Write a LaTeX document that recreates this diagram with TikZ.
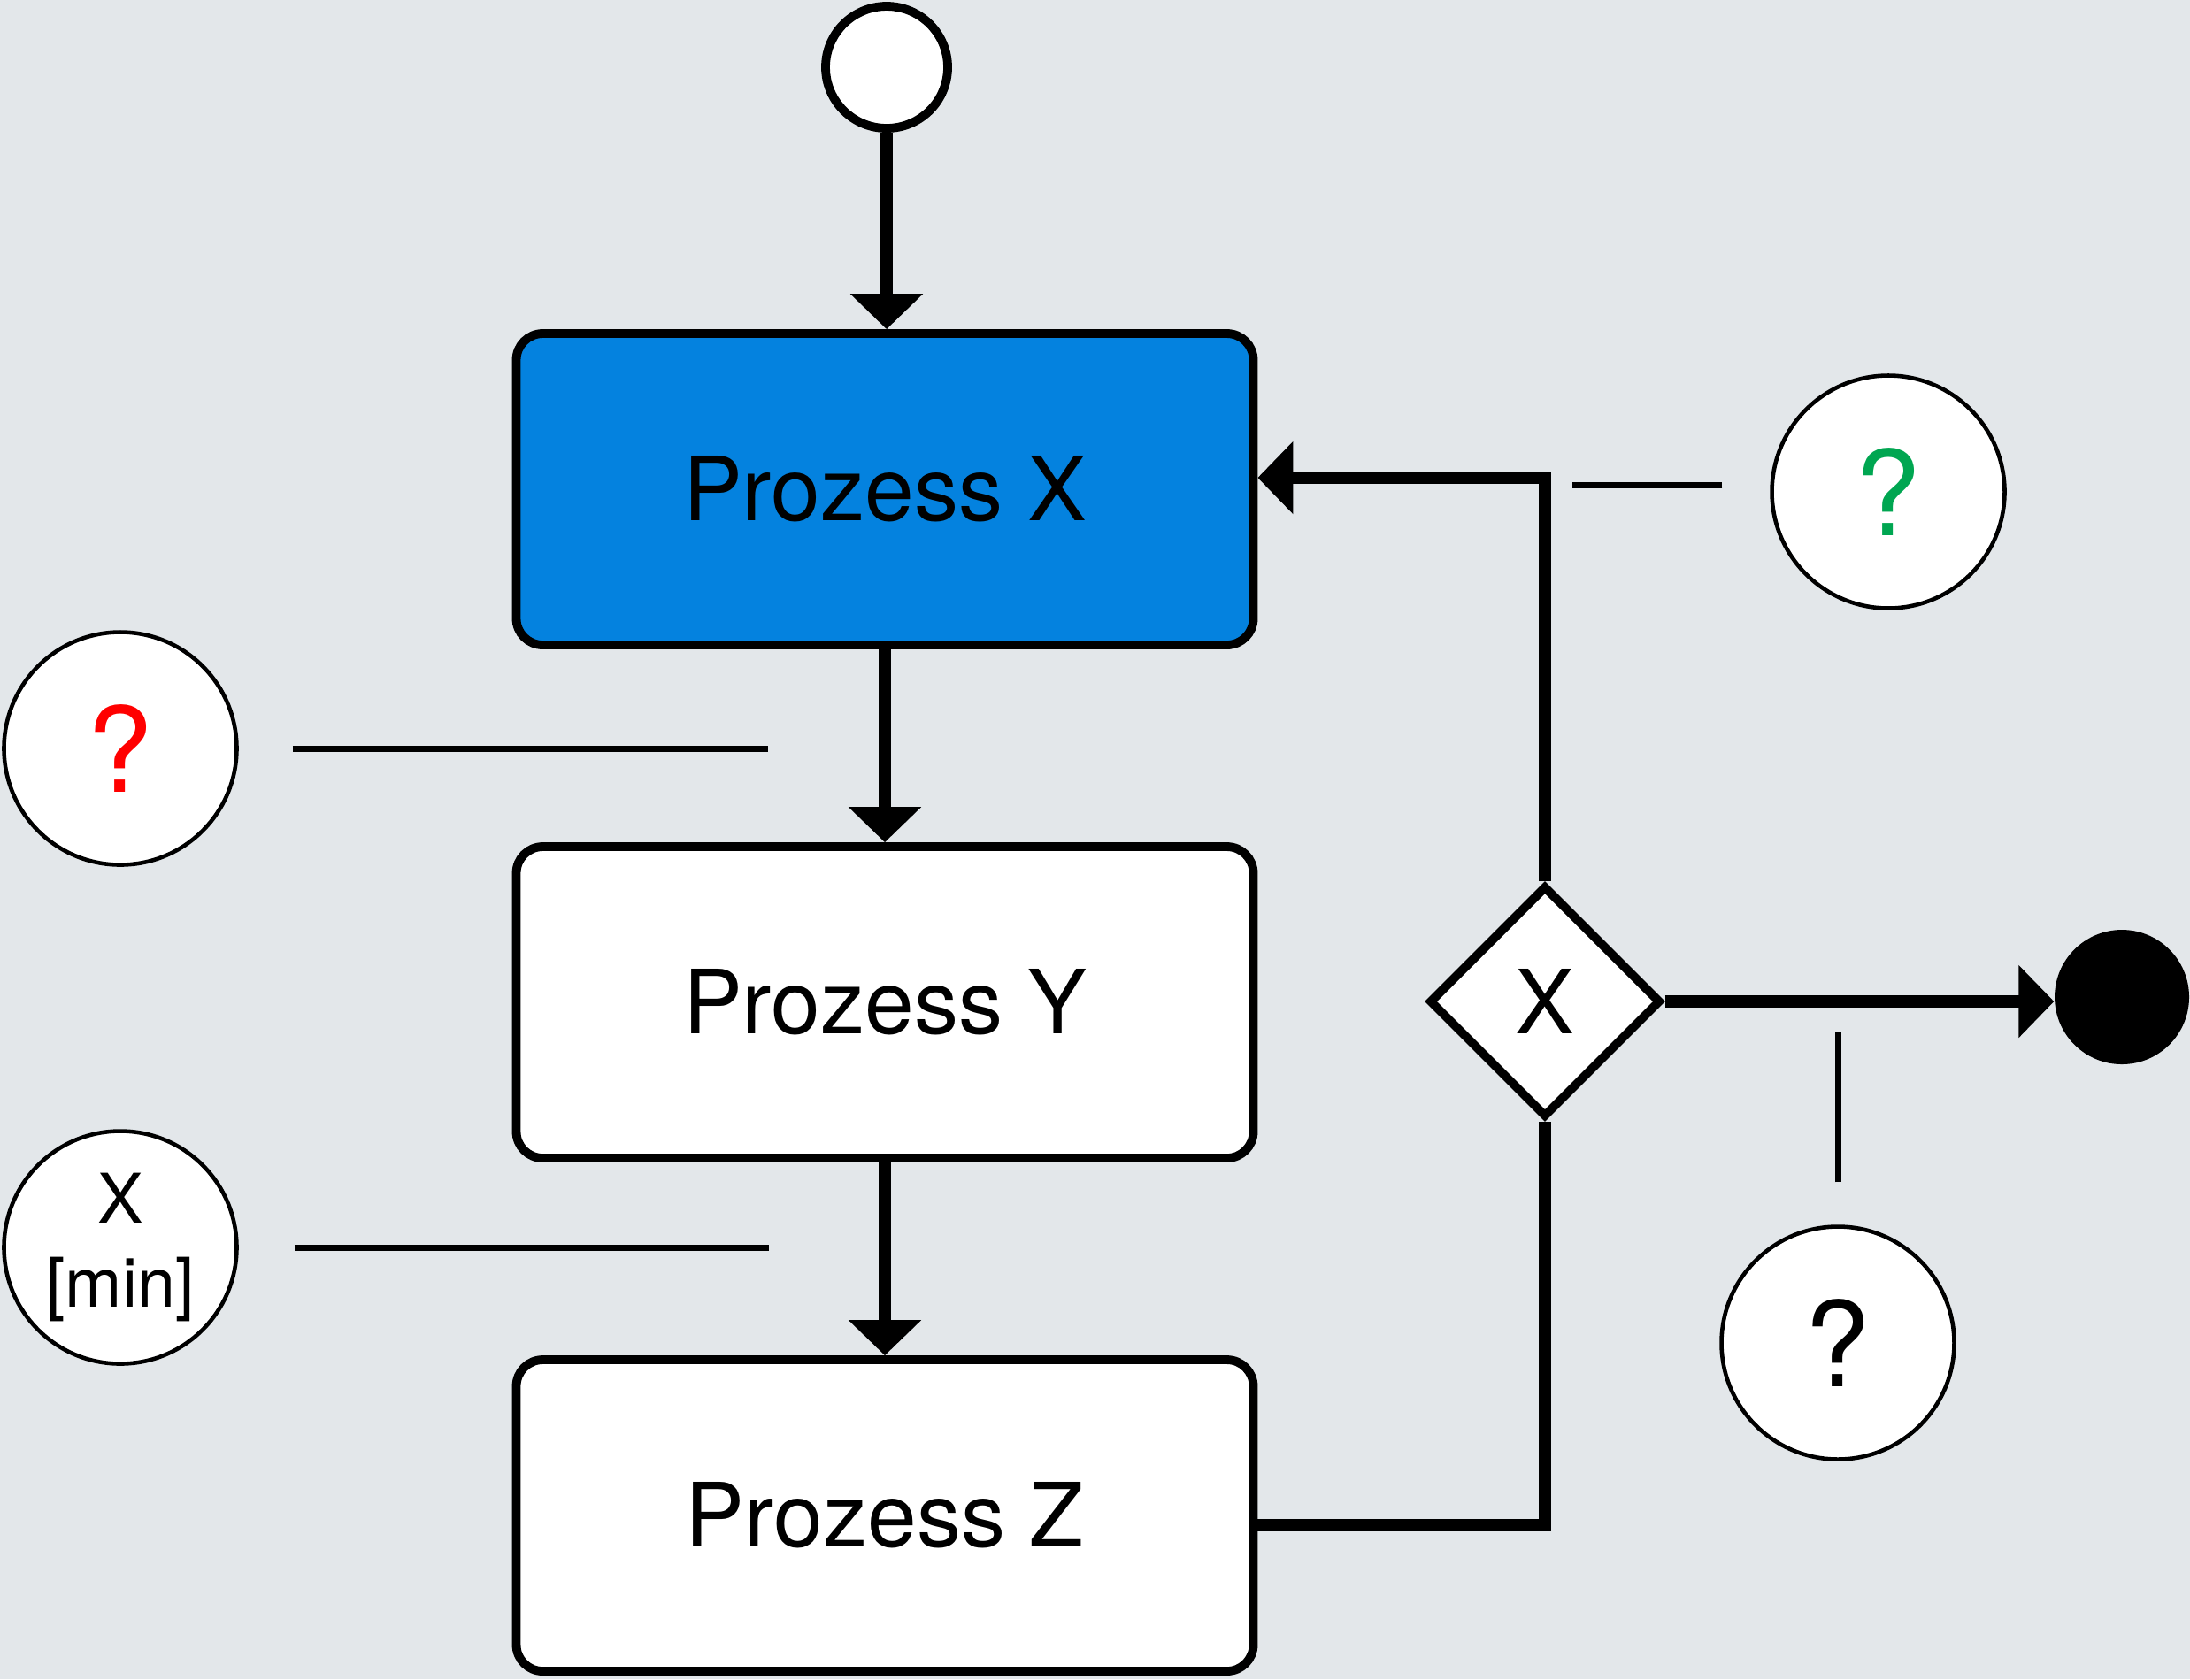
\documentclass[tikz,border=0pt]{standalone}
\usepackage{fontspec}
\setmainfont{TeX Gyre Heros}
\usetikzlibrary{shapes.geometric,arrows.meta}
\definecolor{bgcol}{HTML}{E3E7EA}
\definecolor{pblue}{HTML}{0482DF}
\definecolor{qgreen}{HTML}{00A651}
\begin{document}
\begin{tikzpicture}[>={Triangle[width=8mm,length=4mm]},
  proc/.style={rectangle,draw,rounded corners=3mm,line width=2.8pt,fill=white,minimum width=8.33cm,minimum height=3.52cm,inner sep=0pt,font=\fontsize{28.5}{34}\selectfont},
  flow/.style={line width=4.2pt,line join=miter},
  qc/.style={circle,draw,line width=1.3pt,fill=white,minimum size=2.63cm,inner sep=0pt},
  qmark/.style={font=\fontsize{38}{40}\selectfont},
  note/.style={line width=2pt}]
\begin{scope}

\fill[bgcol] (0,0) rectangle (24.75,-18.98);
\useasboundingbox (0,0) rectangle (24.75,-18.98);

 \node[circle,draw,fill=white,line width=2.8pt,minimum size=1.38cm,inner sep=0pt] (s) at (10.02,-0.76) {};

 \node[proc,fill=pblue] (p1) at (10.0,-5.53) {Prozess X};
 \node[proc] (p2) at (10.0,-11.33) {Prozess Y};
 \node[proc] (p3) at (10.0,-17.13) {Prozess Z};

    \draw[flow,->] (s) -- (s |- p1.north);
    \draw[flow,->] (p1) -- (p2);
    \draw[flow,->] (p2) -- (p3);

\node[diamond,draw,fill=white,line width=2.8pt,minimum width=2.62cm,minimum height=2.62cm,inner sep=0pt,font=\fontsize{28.5}{34}\selectfont] (d) at (17.46,-11.32) {X};
\node[circle,fill=black,minimum size=1.52cm,inner sep=0pt] (e) at (23.98,-11.27) {};

   \draw[flow] ([yshift=-1.1mm]p3.east) -| (d.south);
   \draw[flow,->] (d.north) |- ([yshift=1.3mm]p1.east);
   \draw[flow,->] (d.east) -- (d.east -| e.west);

% annotations
 \node[qc,qmark,text=red] (q1) at (1.36,-8.46) {?};
 \node[qc,font=\fontsize{22}{27}\selectfont,align=center] (q2) at (1.36,-14.10) {X\\{}[min]};
 \node[qc,qmark,text=qgreen] (q3) at (21.34,-5.56) {?};
 \node[qc,qmark] (q4) at (20.77,-15.18) {?};

   \draw[note,shorten <=0.61cm,shorten >=1.32cm] (q1.east) -- (q1.east -| p1.south);
   \draw[note,shorten <=0.63cm,shorten >=1.31cm] (q2.east) -- (q2.east -| p2.south);
   \draw[note,shorten <=0.54cm,shorten >=0.31cm] ([yshift=0.8mm]q3.west) -- ([yshift=0.8mm]q3.west -| d.north);
   \draw[note,shorten <=0.48cm,shorten >=0.34cm] (q4.north) -- (q4.north |- d.east);

  \end{scope}
\end{tikzpicture}
\end{document}
